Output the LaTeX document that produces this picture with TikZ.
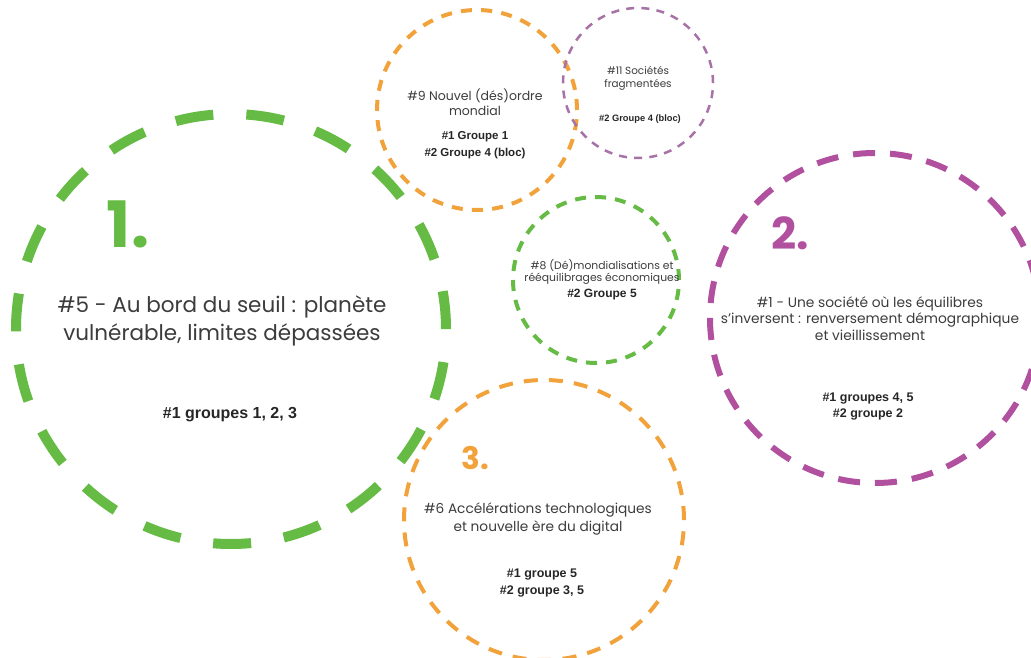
\documentclass[tikz,border=0pt]{standalone}
\usepackage{fontspec}
\setmainfont{Poppins}
\newfontfamily\arb{Liberation Sans}
\definecolor{cgreen}{HTML}{66BB44}
\definecolor{corange}{HTML}{F2A23A}
\definecolor{cpurple}{HTML}{B0509E}
\definecolor{cpurplel}{HTML}{A772A8}
\definecolor{ctext}{HTML}{3C3C3C}
\tikzset{
  ring/.style={circle, inner sep=0pt, draw},
  title/.style={align=center, text=ctext, inner sep=0pt},
  groups/.style={align=center, text=black!85, inner sep=0pt},
  bignum/.style={inner sep=0pt},
}
\newcommand{\fs}[2]{\fontsize{#1}{#2}\selectfont}
\begin{document}
\begin{tikzpicture}[x=1pt,y=-1pt]
\useasboundingbox (0,0) rectangle (1031,658);
% circles
\node[ring, draw=cgreen, line width=10pt, minimum size=430pt, dash pattern=on 38pt off 33.1pt] (c1) at (231,329) {};
\node[ring, draw=corange, line width=4pt, minimum size=200pt, dash pattern=on 11pt off 9.27pt] (c9) at (477,110) {};
\node[ring, draw=cpurplel, line width=2.5pt, minimum size=150pt, dash pattern=on 8pt off 7.2pt] (c11) at (638,83) {};
\node[ring, draw=cgreen, line width=4pt, minimum size=166pt, dash pattern=on 11pt off 9.06pt] (c8) at (596,280) {};
\node[ring, draw=cpurple, line width=6pt, minimum size=330pt, dash pattern=on 22pt off 15.03pt] (c2) at (875,318) {};
\node[ring, draw=corange, line width=4pt, minimum size=280pt, dash pattern=on 14pt off 11.13pt] (c3) at (544,520) {};
% circle 1
\node[bignum, text=cgreen, font=\bfseries\fs{64}{64}] (n1) at (128,224) {1.};
\node[title, font=\fs{21.5}{28}] (t1) at (222,321) {\#5 - Au bord du seuil : planète\\vulnérable, limites dépassées};
\node[groups, font=\arb\bfseries\fs{16}{18}] (g1) at (230,415) {\#1 groupes 1, 2, 3};
% circle 9
\node[title, font=\fs{12.5}{15}] (t9) at (475,102) {\#9 Nouvel (dés)ordre\\mondial};
\node[groups, font=\arb\bfseries\fs{11.5}{17}] (g9) at (475,145.5) {\#1 Groupe 1\\\#2 Groupe 4 (bloc)};
% circle 11
\node[title, font=\fs{10.4}{13}] (t11) at (638,78.5) {\#11 Sociétés\\fragmentées};
\node[groups, font=\arb\bfseries\fs{9.3}{11}] (g11) at (640,119) {\#2 Groupe 4 (bloc)};
% circle 8
\node[title, font=\fs{10.8}{11.5}] (t8) at (602,272) {\#8 (Dé)mondialisations et\\rééquilibrages économiques};
\node[groups, font=\arb\bfseries\fs{12}{14}] (g8) at (602,295) {\#2 Groupe 5};
% circle 2
\node[bignum, text=cpurple, font=\bfseries\fs{44}{44}] (n2) at (790,233) {2.};
\node[title, font=\fs{13.8}{16.5}] (t2) at (870,318.5) {\#1 - Une société où les équilibres\\s'inversent : renversement démographique\\et vieillissement};
\node[groups, font=\arb\bfseries\fs{12.5}{16}] (g2) at (868,407) {\#1 groupes 4, 5\\\#2 groupe 2};
% circle 3
\node[bignum, text=corange, font=\bfseries\fs{31}{31}] (n3) at (475,458) {3.};
\node[title, font=\fs{13.7}{18}] (t3) at (538,519) {\#6 Accélérations technologiques\\et nouvelle ère du digital};
\node[groups, font=\arb\bfseries\fs{12.5}{17}] (g3) at (542,583.5) {\#1 groupe 5\\\#2 groupe 3, 5};
\end{tikzpicture}
\end{document}
